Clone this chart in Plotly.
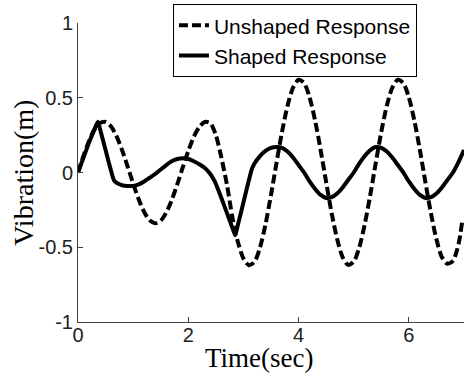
import plotly.graph_objects as go

# Time samples (s)
t_unshaped = [0.0, 0.1, 0.2, 0.3, 0.4, 0.5, 0.6, 0.7, 0.8, 0.9,
              1.0, 1.1, 1.2, 1.3, 1.4, 1.5, 1.6, 1.7, 1.8, 1.9,
              2.0, 2.1, 2.2, 2.3, 2.4, 2.5, 2.6, 2.7, 2.8, 2.9,
              3.0, 3.1, 3.2, 3.3, 3.4, 3.5, 3.6, 3.7, 3.8, 3.9,
              4.0, 4.1, 4.2, 4.3, 4.4, 4.5, 4.6, 4.7, 4.8, 4.9,
              5.0, 5.1, 5.2, 5.3, 5.4, 5.5, 5.6, 5.7, 5.8, 5.9,
              6.0, 6.1, 6.2, 6.3, 6.4, 6.5, 6.6, 6.7, 6.8, 6.9, 6.97]
unshaped = [0.0, 0.112, 0.211, 0.288, 0.331, 0.338, 0.307, 0.241, 0.149, 0.040,
            -0.074, -0.179, -0.264, -0.320, -0.340, -0.322, -0.268, -0.184, -0.079, 0.034,
            0.144, 0.239, 0.305, 0.338, 0.330, 0.250, 0.100, -0.080, -0.300, -0.465,
            -0.575, -0.620, -0.598, -0.502, -0.347, -0.150, 0.064, 0.272, 0.446, 0.567,
            0.620, 0.598, 0.502, 0.347, 0.150, -0.064, -0.272, -0.446, -0.567, -0.618,
            -0.596, -0.502, -0.347, -0.150, 0.064, 0.272, 0.446, 0.567, 0.620, 0.598,
            0.502, 0.347, 0.150, -0.064, -0.272, -0.446, -0.567, -0.610, -0.590, -0.480, -0.320]

t_shaped = [0.0, 0.1, 0.2, 0.3, 0.36, 0.4, 0.5, 0.6, 0.65, 0.7, 0.8, 0.9,
            1.0, 1.1, 1.2, 1.3, 1.4, 1.5, 1.6, 1.7, 1.8, 1.9,
            2.0, 2.1, 2.2, 2.3, 2.4, 2.48, 2.6, 2.7, 2.8, 2.85, 2.9,
            3.0, 3.1, 3.15, 3.2, 3.3, 3.4, 3.5, 3.6, 3.7, 3.8, 3.9,
            4.0, 4.1, 4.2, 4.3, 4.4, 4.5, 4.6, 4.7, 4.8, 4.9,
            5.0, 5.1, 5.2, 5.3, 5.4, 5.5, 5.6, 5.7, 5.8, 5.9,
            6.0, 6.1, 6.2, 6.3, 6.4, 6.5, 6.6, 6.7, 6.8, 6.9, 7.0]
shaped = [0.0, 0.10, 0.20, 0.29, 0.34, 0.29, 0.15, 0.01, -0.05, -0.07, -0.085, -0.09,
          -0.09, -0.08, -0.06, -0.035, -0.01, 0.02, 0.05, 0.075, 0.09, 0.095,
          0.09, 0.075, 0.055, 0.03, -0.01, -0.06, -0.17, -0.27, -0.37, -0.42, -0.35,
          -0.20, -0.05, 0.02, 0.06, 0.11, 0.145, 0.165, 0.17, 0.165, 0.14, 0.10,
          0.05, 0.0, -0.06, -0.11, -0.15, -0.17, -0.165, -0.14, -0.10, -0.05,
          0.0, 0.06, 0.11, 0.15, 0.17, 0.165, 0.14, 0.10, 0.05, 0.0,
          -0.06, -0.11, -0.15, -0.17, -0.165, -0.14, -0.10, -0.05, 0.0, 0.07, 0.15]

x_ticks = [0, 2, 4, 6]
y_ticks = [-1, -0.5, 0, 0.5, 1]
y_tick_labels = ["-1", "-0.5", "0", "0.5", "1"]

fig = go.Figure()
fig.add_trace(go.Scatter(
    x=t_unshaped, y=unshaped, mode="lines", name="Unshaped Response",
    line=dict(color="black", width=4, dash="9px,4px", shape="spline", smoothing=0.8)))
fig.add_trace(go.Scatter(
    x=t_shaped, y=shaped, mode="lines", name="Shaped Response",
    line=dict(color="black", width=4, shape="spline", smoothing=0.5)))

axis_common = dict(showline=True, linecolor="#404040", linewidth=1, mirror=False,
                   ticks="inside", ticklen=5, tickcolor="#404040", showgrid=False,
                   zeroline=False,
                   tickfont=dict(family="Arial, Liberation Sans", size=20, color="#202020"))

fig.update_layout(
    width=468, height=375,
    margin=dict(l=78, r=4, t=21, b=53),
    paper_bgcolor="white", plot_bgcolor="white",
    xaxis=dict(range=[0, 7], tickvals=x_ticks, ticktext=[str(v) for v in x_ticks],
               ticklabelstandoff=-5, **axis_common),
    yaxis=dict(range=[-1, 1], tickvals=y_ticks, ticktext=y_tick_labels, **axis_common),
    legend=dict(x=0.246, y=1.063, xanchor="left", yanchor="top",
                bordercolor="black", borderwidth=1, bgcolor="white",
                font=dict(family="Arial, Liberation Sans", size=21, color="black")),
    showlegend=True,
    annotations=[
        dict(text="Time(sec)", xref="paper", yref="paper", x=(259 - 78) / 386, y=-0.121,
             xanchor="center", yanchor="middle", showarrow=False,
             font=dict(family="Times New Roman, Liberation Serif", size=27, color="black")),
        dict(text="Vibration(m)", xref="paper", yref="paper", x=-0.142, y=0.5,
             xanchor="center", yanchor="middle", showarrow=False, textangle=-90,
             font=dict(family="Times New Roman, Liberation Serif", size=28, color="black")),
    ],
)

fig.write_html("out.html")
